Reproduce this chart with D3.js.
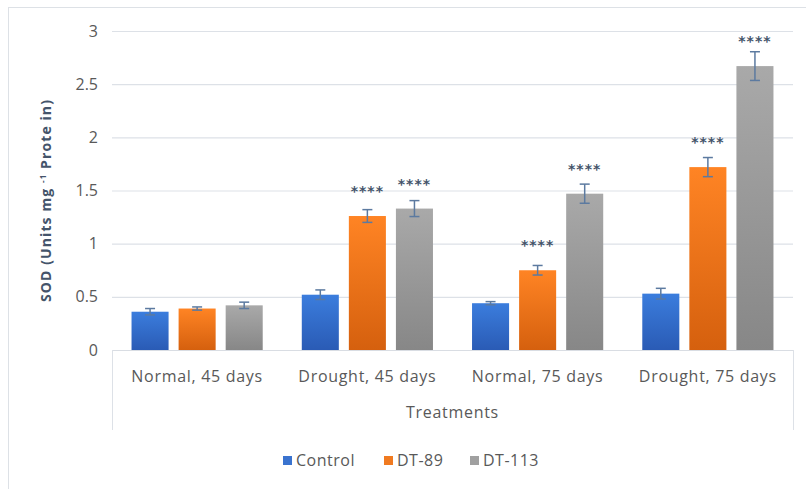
<!DOCTYPE html>
<html><head><meta charset="utf-8">
<script src="https://cdn.jsdelivr.net/npm/d3@7"></script>
<style>body{margin:0;background:#fff}svg{display:block}</style>
</head><body>
<script>
const categories = ["Normal, 45 days", "Drought, 45 days", "Normal, 75 days", "Drought, 75 days"];
const seriesNames = ["Control", "DT-89", "DT-113"];
const controlValues = [0.36, 0.52, 0.44, 0.53];
const dt89Values = [0.39, 1.26, 0.75, 1.72];
const dt113Values = [0.42, 1.33, 1.47, 2.67];
const controlErrors = [0.03, 0.045, 0.015, 0.05];
const dt89Errors = [0.015, 0.06, 0.045, 0.09];
const dt113Errors = [0.03, 0.075, 0.09, 0.135];
const dt89Stars = ["", "****", "****", "****"];
const dt113Stars = ["", "****", "****", "****"];
const yTicks = [0, 0.5, 1, 1.5, 2, 2.5, 3];

const W = 806, H = 489;
const FONT = "Open Sans, sans-serif";
const svg = d3.select("body").append("svg").attr("width", W).attr("height", H);
const defs = svg.append("defs");
const grads = [["#3b7ddd", "#2a5bb5"], ["#ff8424", "#d5600e"], ["#a9a9a9", "#878787"]];
grads.forEach((g, i) => {
  const lg = defs.append("linearGradient").attr("id", "g" + i).attr("x1", 0).attr("y1", 0).attr("x2", 0).attr("y2", 1);
  lg.append("stop").attr("offset", "0%").attr("stop-color", g[0]);
  lg.append("stop").attr("offset", "100%").attr("stop-color", g[1]);
});
const legendColors = ["#3a73cf", "#f07a20", "#a0a0a0"];

// outer border
svg.append("rect").attr("x", 8.5).attr("y", 7.5).attr("width", W).attr("height", H).attr("fill", "#fff").attr("stroke", "#dde1e6");

const x0 = 112, x1 = 793, yTop = 31, yBot = 350;
const y = d3.scaleLinear().domain([0, 3]).range([yBot, yTop]);
const xBand = d3.scaleBand().domain(categories).range([x0, x1]).paddingInner(0).paddingOuter(0);
const xSub = d3.scaleBand().domain(seriesNames).range([0, xBand.bandwidth()]).paddingInner(0.213).paddingOuter(0.415);

// grid
svg.append("g").selectAll("line").data(yTicks.filter(d => d > 0)).join("line")
  .attr("x1", x0).attr("x2", x1).attr("y1", d => y(d) + 0.5).attr("y2", d => y(d) + 0.5)
  .attr("stroke", "#dde1e7").attr("stroke-width", 1.2);

// y axis labels
const yAxis = d3.axisLeft(y).tickValues(yTicks).tickSize(0).tickPadding(0).tickFormat(d3.format("~g"));
const ya = svg.append("g").attr("transform", "translate(98,0)").call(yAxis);
ya.select(".domain").remove();
ya.selectAll("text").attr("font-family", FONT).attr("font-size", 16).attr("fill", "#595959");

// category axis box
svg.append("line").attr("x1", x0).attr("x2", x1).attr("y1", yBot + 0.5).attr("y2", yBot + 0.5).attr("stroke", "#d9dde3");
[x0, x1].forEach(xx => svg.append("line").attr("x1", xx + 0.5).attr("x2", xx + 0.5).attr("y1", yBot).attr("y2", 430).attr("stroke", "#dde1e7"));

const xAxis = d3.axisBottom(xBand).tickSize(0).tickPadding(0);
const xa = svg.append("g").attr("transform", `translate(0,${yBot + 21})`).call(xAxis);
xa.select(".domain").remove();
xa.selectAll("text").attr("font-family", FONT).attr("font-size", 16).attr("letter-spacing", "0.7px").attr("fill", "#595959");

const series = [
  {name: seriesNames[0], vals: controlValues, errs: controlErrors, stars: null},
  {name: seriesNames[1], vals: dt89Values, errs: dt89Errors, stars: dt89Stars},
  {name: seriesNames[2], vals: dt113Values, errs: dt113Errors, stars: dt113Stars}
];

series.forEach((s, si) => {
  const g = svg.append("g");
  const cx = (i) => xBand(categories[i]) + xSub(s.name);
  g.selectAll("rect").data(s.vals).join("rect")
    .attr("x", (d, i) => cx(i)).attr("width", xSub.bandwidth())
    .attr("y", d => y(d)).attr("height", d => yBot - y(d))
    .attr("fill", `url(#g${si})`);
  s.vals.forEach((v, i) => {
    const mx = cx(i) + xSub.bandwidth() / 2, e = s.errs[i];
    const eg = g.append("g").attr("stroke", "#5c7aa0").attr("stroke-width", 1.5);
    eg.append("line").attr("x1", mx).attr("x2", mx).attr("y1", y(v + e)).attr("y2", y(v - e));
    eg.append("line").attr("x1", mx - 5).attr("x2", mx + 5).attr("y1", y(v + e)).attr("y2", y(v + e));
    eg.append("line").attr("x1", mx - 5).attr("x2", mx + 5).attr("y1", y(v - e)).attr("y2", y(v - e));
    if (s.stars && s.stars[i]) {
      g.append("text").attr("x", mx).attr("y", y(v) - 20)
        .attr("text-anchor", "middle").attr("font-family", "DejaVu Sans, sans-serif")
        .attr("font-size", 14).attr("font-weight", "bold").attr("letter-spacing", "1px").attr("fill", "#44546a").text(s.stars[i]);
    }
  });
});

// axis titles
const yt = svg.append("text").attr("transform", `translate(51,${(yTop + yBot) / 2 + 10}) rotate(-90)`)
  .attr("text-anchor", "middle").attr("font-family", FONT).attr("font-size", 14)
  .attr("font-weight", "bold").attr("letter-spacing", "1.1px").attr("fill", "#44546a");
yt.append("tspan").text("SOD (Units  mg ");
yt.append("tspan").attr("font-size", 8).attr("dy", -5).text("-1");
yt.append("tspan").attr("dy", 5).text(" Prote in)");

svg.append("text").attr("x", (x0 + x1) / 2).attr("y", 418).attr("text-anchor", "middle")
  .attr("font-family", FONT).attr("font-size", 16).attr("letter-spacing", "0.7px").attr("fill", "#595959").text("Treatments");

// legend
const legendX = [283, 384, 470];
const lg = svg.append("g");
seriesNames.forEach((n, i) => {
  lg.append("rect").attr("x", legendX[i]).attr("y", 456).attr("width", 9).attr("height", 9).attr("fill", legendColors[i]);
  lg.append("text").attr("x", legendX[i] + 13).attr("y", 466).attr("font-family", FONT)
    .attr("font-size", 16).attr("letter-spacing", "0.5px").attr("fill", "#595959").text(n);
});
</script>
</body></html>
